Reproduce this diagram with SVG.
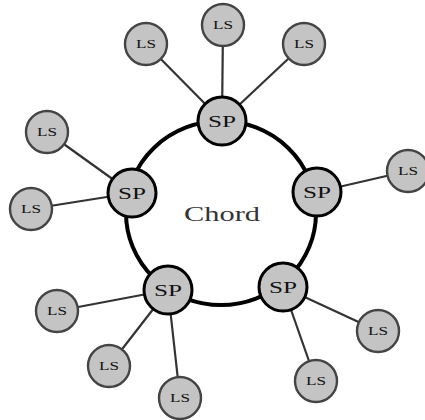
<svg xmlns="http://www.w3.org/2000/svg" width="425" height="420" viewBox="0 0 425 420">
<style>
.ring{fill:none;stroke:#000;stroke-width:4}
.spoke{stroke:#333;stroke-width:2.2}
.sp circle{fill:#c4c4c4;stroke:#000;stroke-width:3}
.ls circle{fill:#c4c4c4;stroke:#444;stroke-width:2.4}
.sp text{font-family:"Liberation Serif",serif;font-size:16px;fill:#111;text-anchor:middle}
.ls text{font-family:"Liberation Serif",serif;font-size:12px;fill:#111;text-anchor:middle}
.title{font-family:"Liberation Serif",serif;font-size:21px;fill:#333;text-anchor:middle}
</style>
<rect width="425" height="420" fill="#fff"/>
<g id="connectors">
<ellipse class="ring" cx="221" cy="213" rx="95" ry="92"/>
<line class="spoke" x1="222" y1="121" x2="146" y2="44"/>
<line class="spoke" x1="222" y1="121" x2="223" y2="25"/>
<line class="spoke" x1="222" y1="121" x2="304" y2="44"/>
<line class="spoke" x1="132" y1="193" x2="47" y2="132"/>
<line class="spoke" x1="132" y1="193" x2="31" y2="209"/>
<line class="spoke" x1="317" y1="192" x2="408" y2="171"/>
<line class="spoke" x1="168" y1="290" x2="57" y2="311"/>
<line class="spoke" x1="168" y1="290" x2="109" y2="366"/>
<line class="spoke" x1="168" y1="290" x2="180" y2="398"/>
<line class="spoke" x1="283" y1="287" x2="378" y2="331"/>
<line class="spoke" x1="283" y1="287" x2="316" y2="381"/>
</g>
<text class="title" x="222" y="221" textLength="76" lengthAdjust="spacingAndGlyphs">Chord</text>
<g id="sp-top" class="sp"><circle cx="222" cy="121" r="24"/><text x="222" y="127" textLength="28" lengthAdjust="spacingAndGlyphs">SP</text></g>
<g id="sp-left" class="sp"><circle cx="132" cy="193" r="24"/><text x="132" y="199" textLength="28" lengthAdjust="spacingAndGlyphs">SP</text></g>
<g id="sp-right" class="sp"><circle cx="317" cy="192" r="24"/><text x="317" y="198" textLength="28" lengthAdjust="spacingAndGlyphs">SP</text></g>
<g id="sp-bottom-left" class="sp"><circle cx="168" cy="290" r="24"/><text x="168" y="296" textLength="28" lengthAdjust="spacingAndGlyphs">SP</text></g>
<g id="sp-bottom-right" class="sp"><circle cx="283" cy="287" r="24"/><text x="283" y="293" textLength="28" lengthAdjust="spacingAndGlyphs">SP</text></g>
<g id="ls-1" class="ls"><circle cx="146" cy="44" r="21"/><text x="146" y="48" textLength="20" lengthAdjust="spacingAndGlyphs">LS</text></g>
<g id="ls-2" class="ls"><circle cx="223" cy="25" r="21"/><text x="223" y="29" textLength="20" lengthAdjust="spacingAndGlyphs">LS</text></g>
<g id="ls-3" class="ls"><circle cx="304" cy="44" r="21"/><text x="304" y="48" textLength="20" lengthAdjust="spacingAndGlyphs">LS</text></g>
<g id="ls-4" class="ls"><circle cx="47" cy="132" r="21"/><text x="47" y="136" textLength="20" lengthAdjust="spacingAndGlyphs">LS</text></g>
<g id="ls-5" class="ls"><circle cx="31" cy="209" r="21"/><text x="31" y="213" textLength="20" lengthAdjust="spacingAndGlyphs">LS</text></g>
<g id="ls-6" class="ls"><circle cx="408" cy="171" r="21"/><text x="408" y="175" textLength="20" lengthAdjust="spacingAndGlyphs">LS</text></g>
<g id="ls-7" class="ls"><circle cx="57" cy="311" r="21"/><text x="57" y="315" textLength="20" lengthAdjust="spacingAndGlyphs">LS</text></g>
<g id="ls-8" class="ls"><circle cx="109" cy="366" r="21"/><text x="109" y="370" textLength="20" lengthAdjust="spacingAndGlyphs">LS</text></g>
<g id="ls-9" class="ls"><circle cx="180" cy="398" r="21"/><text x="180" y="402" textLength="20" lengthAdjust="spacingAndGlyphs">LS</text></g>
<g id="ls-10" class="ls"><circle cx="378" cy="331" r="21"/><text x="378" y="335" textLength="20" lengthAdjust="spacingAndGlyphs">LS</text></g>
<g id="ls-11" class="ls"><circle cx="316" cy="381" r="21"/><text x="316" y="385" textLength="20" lengthAdjust="spacingAndGlyphs">LS</text></g>
</svg>
